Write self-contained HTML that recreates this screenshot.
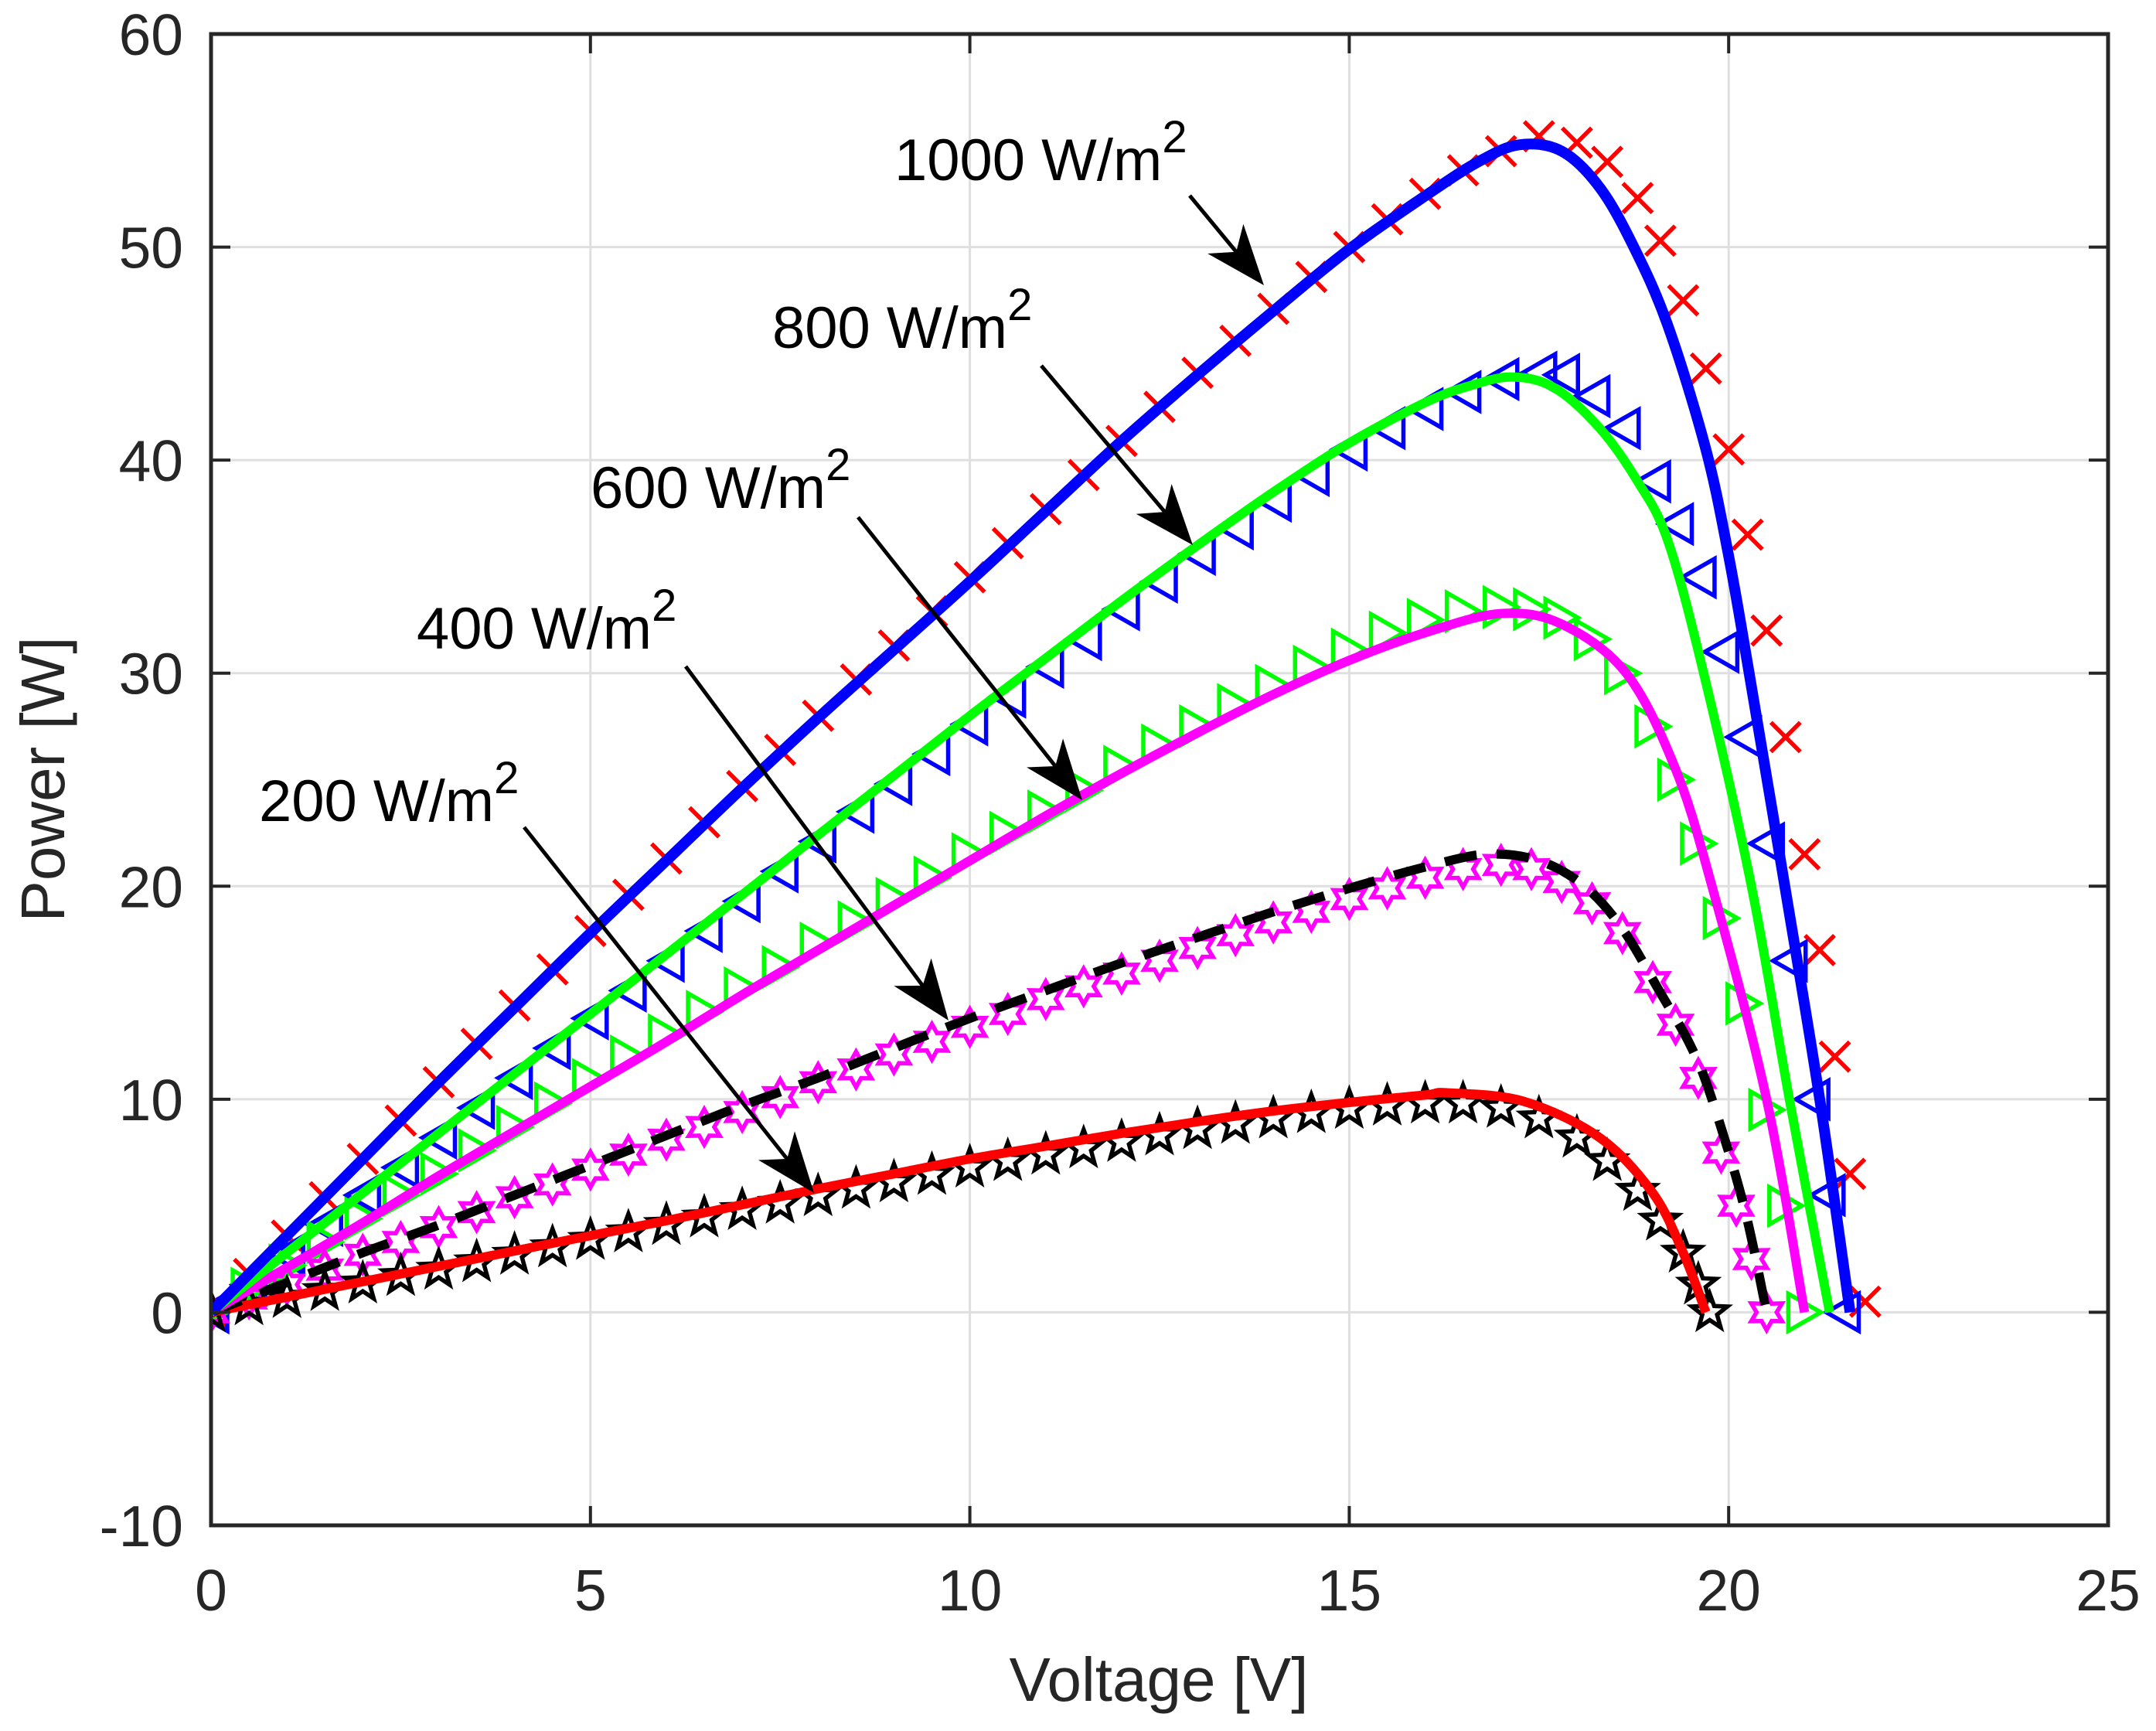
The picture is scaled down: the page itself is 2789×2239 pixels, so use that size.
<!DOCTYPE html>
<html><head><meta charset="utf-8"><style>
html,body{margin:0;padding:0;background:#fff;}
svg{display:block;font-family:"Liberation Sans",Arial,sans-serif;}
</style></head><body>
<svg id="chart" width="2789" height="2239" viewBox="0 0 2789 2239" xmlns="http://www.w3.org/2000/svg">
<rect width="2789" height="2239" fill="#fff"/>
<defs><clipPath id="plotclip"><rect x="273" y="44" width="2454" height="1929"/></clipPath></defs>
<g id="grid"></g>
<g id="series" clip-path="url(#plotclip)"></g>
<g id="axes"></g>
<g id="annots"></g>
<text x="62" y="1008" font-size="80" fill="#262626" text-anchor="middle" dominant-baseline="middle" transform="rotate(-90 62 1008)">Power [W]</text>
<text x="1499" y="2200" font-size="80" fill="#262626" text-anchor="middle">Voltage [V]</text>
</svg>
<script>
// ---- data ----
const xTicks = [0,5,10,15,20,25];
const yTicks = [-10,0,10,20,30,40,50,60];
const xTickLabels = ["0","5","10","15","20","25"];
const yTickLabels = ["-10","0","10","20","30","40","50","60"];

const v1000 = [0,1,2,3,4,5,6,7,8,9,10,11,12,13,14,15,16,16.7,17.24,17.8,18.3,18.75,19.2,19.7,20,20.27,20.74,21.2,21.6];
const p1000 = [0,3.6,7.2,10.8,14.3,17.8,21.2,24.6,27.9,31.1,34.3,37.6,40.9,44,47,49.9,52.4,54,54.8,54.5,52.8,50,46.3,40.5,35.5,30,20,10,0];
const v800 = [0,1,2,3,4,5,6,7,8,9,10,11,12,13,14,15,16,16.6,17.15,17.7,18.3,18.8,19.2,19.67,20.3,20.8,21.33];
const p800 = [0,2.8,5.6,8.4,11.2,14,16.8,19.6,22.4,25.2,28,30.7,33.4,36,38.5,40.8,42.7,43.5,43.9,43.4,41.5,39,36.2,30,20,10,0];
const v600 = [0,1,2,3,4,5,6,7,8,9,10,11,12,13,14,15,16,17,17.8,18.65,19.3,19.78,20.5,21];
const p600 = [0,2.1,4.2,6.4,8.5,10.6,12.7,14.9,17,19.1,21.2,23.3,25.3,27.2,29,30.6,31.9,32.8,32.3,30,25.5,20,10,0];
const v400 = [0,1,2,3,4,5,6,7,8,9,10,11,12,13,14,15,16,16.8,17.5,18.1,18.6,19.1,19.5,19.78,20.2,20.5];
const p400 = [0,1.4,2.8,4.1,5.5,6.9,8.3,9.7,11,12.4,13.8,15.1,16.4,17.6,18.8,19.9,20.9,21.5,21.2,20,18,15,12.5,10,5,0];
const v200 = [0,1,2,3,4,5,6,7,8,9,10,11,12,13,14,15,16,16.3,17.3,18.3,19,19.4,19.7];
const p200 = [0,0.72,1.44,2.16,2.88,3.6,4.3,5.05,5.8,6.5,7.2,7.8,8.4,8.95,9.45,9.85,10.2,10.3,9.9,8.2,5.6,2.8,0];

const mv1000 = [0,0.5,1,1.5,2,2.5,3,3.5,4,4.5,5,5.5,6,6.5,7,7.5,8,8.5,9,9.5,10,10.5,11,11.5,12,12.5,13,13.5,14,14.5,15,15.5,16,16.5,17,17.5,18,18.4,18.8,19.1,19.4,19.7,20,20.25,20.5,20.75,21,21.2,21.4,21.6,21.8];
const mp1000 = [0,1.8,3.6,5.4,7.2,9,10.8,12.6,14.4,16.1,17.9,19.6,21.3,23,24.7,26.4,28,29.7,31.3,32.9,34.5,36.1,37.7,39.3,40.9,42.5,44.1,45.6,47.1,48.6,50,51.3,52.5,53.6,54.5,55.2,54.9,54,52.3,50.3,47.5,44.3,40.5,36.5,32,27,21.5,17,12,6.5,0.5];
const mv800 = [0,0.5,1,1.5,2,2.5,3,3.5,4,4.5,5,5.5,6,6.5,7,7.5,8,8.5,9,9.5,10,10.5,11,11.5,12,12.5,13,13.5,14,14.5,15,15.5,16,16.5,17,17.5,17.8,18.2,18.6,19,19.3,19.6,19.9,20.2,20.5,20.8,21.1,21.3,21.5];
const mp800 = [0,1.3,2.7,4.1,5.5,6.8,8.2,9.6,11,12.4,13.8,15.1,16.5,17.9,19.3,20.7,22.1,23.5,24.8,26.2,27.6,28.9,30.3,31.6,33,34.3,35.6,36.8,38.1,39.3,40.5,41.5,42.4,43.2,43.8,44.1,44,43,41.5,39,37,34.5,31,27,22,16.5,10,5.5,0];
const mv600 = [0,0.5,1,1.5,2,2.5,3,3.5,4,4.5,5,5.5,6,6.5,7,7.5,8,8.5,9,9.5,10,10.5,11,11.5,12,12.5,13,13.5,14,14.5,15,15.5,16,16.5,17,17.4,17.8,18.2,18.6,19,19.3,19.6,19.9,20.2,20.5,20.75,21];
const mp600 = [0,1.1,2.2,3.3,4.4,5.5,6.5,7.6,8.7,9.8,10.9,12,13,14.1,15.2,16.2,17.3,18.3,19.4,20.4,21.5,22.5,23.5,24.5,25.6,26.6,27.5,28.5,29.4,30.3,31.1,31.9,32.5,32.9,33.1,33,32.6,31.6,30,27.5,25,22,18.5,14.5,9.5,5,0];
const mv400 = [0,0.5,1,1.5,2,2.5,3,3.5,4,4.5,5,5.5,6,6.5,7,7.5,8,8.5,9,9.5,10,10.5,11,11.5,12,12.5,13,13.5,14,14.5,15,15.5,16,16.5,17,17.4,17.8,18.2,18.6,19,19.3,19.6,19.9,20.1,20.3,20.5];
const mp400 = [0,0.65,1.3,2,2.7,3.3,4,4.7,5.4,6,6.7,7.4,8.1,8.7,9.4,10.1,10.8,11.4,12.1,12.7,13.4,14,14.7,15.3,15.9,16.5,17.1,17.7,18.3,18.8,19.4,19.9,20.4,20.8,21,20.8,20.2,19.2,17.8,15.5,13.5,11,7.5,5,2.5,0];
const mv200 = [0,0.5,1,1.5,2,2.5,3,3.5,4,4.5,5,5.5,6,6.5,7,7.5,8,8.5,9,9.5,10,10.5,11,11.5,12,12.5,13,13.5,14,14.5,15,15.5,16,16.5,17,17.5,18,18.4,18.8,19.1,19.4,19.6,19.75];
const mp200 = [0,0.33,0.67,1,1.35,1.7,2,2.35,2.7,3.05,3.4,3.75,4.1,4.45,4.8,5.1,5.45,5.8,6.1,6.45,6.8,7.1,7.4,7.7,8,8.3,8.6,8.85,9.1,9.35,9.55,9.7,9.8,9.8,9.6,9.1,8.2,7.1,5.7,4.3,2.8,1.3,0];

// ---- axis functions ----
const X0=273, X1=2727, Y0=44, Y1=1973, XMIN=0, XMAX=25, YMIN=-10, YMAX=60;
function sx(v){return X0+(v-XMIN)/(XMAX-XMIN)*(X1-X0);}
function sy(p){return Y1-(p-YMIN)/(YMAX-YMIN)*(Y1-Y0);}
const NS="http://www.w3.org/2000/svg";
function mk(tag,attrs,parent){const e=document.createElementNS(NS,tag);for(const k in attrs)e.setAttribute(k,attrs[k]);parent.appendChild(e);return e;}

const grid=document.getElementById('grid'), axes=document.getElementById('axes'), series=document.getElementById('series'), annots=document.getElementById('annots');

xTicks.forEach((t,i)=>{
  const g=mk('line',{x1:sx(t),x2:sx(t),y1:Y0,y2:Y1,stroke:'#dfdfdf','stroke-width':3},grid);
  
  
  const tb=mk('line',{x1:sx(t),x2:sx(t),y1:Y1,y2:Y1-25,stroke:'#262626','stroke-width':4},axes);
  
  
  const tt=mk('line',{x1:sx(t),x2:sx(t),y1:Y0,y2:Y0+25,stroke:'#262626','stroke-width':4},axes);
  
  
  const lb=mk('text',{x:sx(t),y:2083,'font-size':75,fill:'#262626','text-anchor':'middle'},axes);
  lb.textContent=xTickLabels[i];
  
  
});
yTicks.forEach((t,i)=>{
  const g=mk('line',{x1:X0,x2:X1,y1:sy(t),y2:sy(t),stroke:'#dfdfdf','stroke-width':3},grid);
  
  
  const tl=mk('line',{x1:X0,x2:X0+25,y1:sy(t),y2:sy(t),stroke:'#262626','stroke-width':4},axes);
  
  
  const tr=mk('line',{x1:X1,x2:X1-25,y1:sy(t),y2:sy(t),stroke:'#262626','stroke-width':4},axes);
  
  
  const lb=mk('text',{x:237,y:sy(t)+27,'font-size':75,fill:'#262626','text-anchor':'end'},axes);
  lb.textContent=yTickLabels[i];
  
  
});
const box=mk('rect',{x:X0,y:Y0,width:X1-X0,height:Y1-Y0,fill:'none',stroke:'#262626','stroke-width':5},axes);



function smoothPath(vs,ps){
  const pts=vs.map((v,i)=>[sx(v),sy(ps[i])]);
  let d='M'+pts[0][0]+','+pts[0][1];
  for(let i=0;i<pts.length-1;i++){
    const p0=pts[Math.max(0,i-1)],p1=pts[i],p2=pts[i+1],p3=pts[Math.min(pts.length-1,i+2)];
    const c1=[p1[0]+(p2[0]-p0[0])/6,p1[1]+(p2[1]-p0[1])/6];
    const c2=[p2[0]-(p3[0]-p1[0])/6,p2[1]-(p3[1]-p1[1])/6];
    d+=' C'+c1[0]+','+c1[1]+' '+c2[0]+','+c2[1]+' '+p2[0]+','+p2[1];
  }
  return d;
}
function starPts(cx,cy,n,ro,ri,rot){
  const a=[];for(let k=0;k<2*n;k++){const r=k%2?ri:ro;const t=rot+k*Math.PI/n;a.push((cx+r*Math.cos(t)).toFixed(1)+','+(cy+r*Math.sin(t)).toFixed(1));}
  return a.join(' ');
}
function markers(vs,ps,type,color,name){
  const g=mk('g',{fill:'none',stroke:color,'stroke-width':5.5},series);
  
  
  const n=Math.min(vs.length,ps.length);
  for(let i=0;i<n;i++){
    const x=sx(vs[i]),y=sy(ps[i]);let m;
    if(type==='x'){m=mk('path',{d:`M${x-19},${y-19}L${x+19},${y+19}M${x-19},${y+19}L${x+19},${y-19}`},g);}
    else if(type==='<'){m=mk('polygon',{points:`${x-21},${y} ${x+21},${y-24} ${x+21},${y+24}`},g);}
    else if(type==='>'){m=mk('polygon',{points:`${x+21},${y} ${x-21},${y-24} ${x-21},${y+24}`},g);}
    else if(type==='hex'){m=mk('polygon',{points:starPts(x,y,6,23,13,-Math.PI/2)},g);}
    else {m=mk('polygon',{points:starPts(x,y,5,24,10,-Math.PI/2)},g);}
    
    
  }
}
function line(vs,ps,color,w,dash,name){
  const attrs={d:smoothPath(vs,ps),fill:'none',stroke:color,'stroke-width':w,'stroke-linejoin':'round'};
  if(dash)attrs['stroke-dasharray']=dash;
  const p=mk('path',attrs,series);
  
  
}
markers(mv1000,mp1000,'x','#ff0000','measured-1000');
markers(mv800,mp800,'<','#0000ff','measured-800');
markers(mv600,mp600,'>','#00ff00','measured-600');
markers(mv400,mp400,'hex','#ff00ff','measured-400');
markers(mv200,mp200,'pent','#000000','measured-200');
line(v200,p200,'#ff0000',12,null,'model-200-line');
line(v400,p400,'#000000',12,'42,26','model-400-line');
line(v600,p600,'#ff00ff',12,null,'model-600-line');
line(v800,p800,'#00ff00',12,null,'model-800-line');
line(v1000,p1000,'#0000ff',14,null,'model-1000-line');

// annotations
const annLabels=["1000","800","600","400","200"];
const annText=[[1157,233],[999,450],[764,657],[539,839],[335,1062]];
const annArrow=[[1539,253,1635,369],[1347,473,1543,705],[1110,669,1400,1035],[887,862,1227,1320],[678,1070,1053,1543]];
annLabels.forEach((lab,i)=>{
  const t=mk('text',{x:annText[i][0],y:annText[i][1],'font-size':76,fill:'#000'},annots);
  
  
  t.appendChild(document.createTextNode(lab+' W/m'));
  const s=document.createElementNS(NS,'tspan');s.setAttribute('dy','-36');s.setAttribute('font-size','58');s.textContent='2';t.appendChild(s);
  const [x1,y1,x2,y2]=annArrow[i];
  const dx=x2-x1,dy=y2-y1,L=Math.hypot(dx,dy),ux=dx/L,uy=dy/L,px=-uy,py=ux;
  const hl=78,hw=30;
  const bx=x2-ux*hl,by=y2-uy*hl,nx=x2-ux*hl*0.72,ny=y2-uy*hl*0.72;
  const ln=mk('line',{x1:x1,y1:y1,x2:nx,y2:ny,stroke:'#000','stroke-width':5},annots);
  
  
  const hd=mk('polygon',{points:`${x2},${y2} ${bx+px*hw},${by+py*hw} ${nx},${ny} ${bx-px*hw},${by-py*hw}`,fill:'#000'},annots);
  
  
});
</script>
</body></html>
